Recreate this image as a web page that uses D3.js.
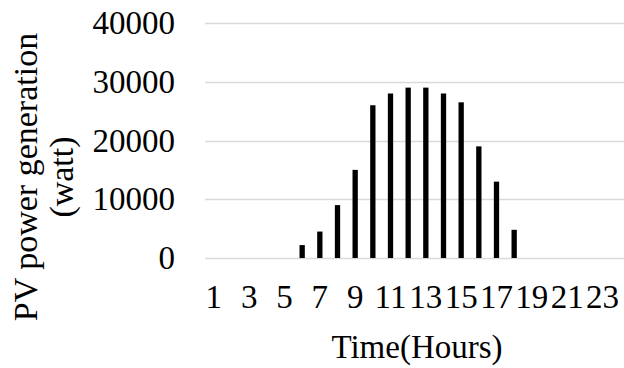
<!DOCTYPE html>
<html>
<head>
<meta charset="utf-8">
<script src="https://cdn.jsdelivr.net/npm/d3@7"></script>
<style>
  html, body { margin: 0; padding: 0; background: #fff; }
  svg { display: block; }
  text { font-family: "Liberation Serif", "Times New Roman", serif; fill: #000; }
</style>
</head>
<body>
<svg id="chart" width="624" height="368"></svg>
<script>
const hours = d3.range(1, 25);
const power = [0, 0, 0, 0, 0, 2200, 4500, 9000, 15000, 26000, 28000, 29000, 29000, 28000, 26500, 19000, 13000, 4800, 0, 0, 0, 0, 0, 0];
const yTicks = [0, 10000, 20000, 30000, 40000];
const xTickLabels = hours.filter(h => h % 2 === 1);
const yTitleLines = ["PV power generation", "(watt)"];
const xTitle = "Time(Hours)";

const svg = d3.select("#chart");
const plotLeft = 205, plotRight = 629, plotTop = 23, plotBottom = 258;

const x = d3.scaleBand().domain(hours).range([plotLeft, plotRight]).paddingInner(0.7).paddingOuter(0.35);
const y = d3.scaleLinear().domain([0, 40000]).range([plotBottom, plotTop]);

// gridlines
svg.append("g").selectAll("line").data(yTicks).join("line")
  .attr("x1", plotLeft).attr("x2", 624)
  .attr("y1", d => Math.round(y(d)) + 0.5).attr("y2", d => Math.round(y(d)) + 0.5)
  .attr("stroke", "#d9d9d9").attr("stroke-width", 1.5);

// bars
svg.append("g").selectAll("rect").data(hours.map((h, i) => ({h, v: power[i]})).filter(d => d.v > 0)).join("rect")
  .attr("x", d => x(d.h)).attr("width", x.bandwidth())
  .attr("y", d => y(d.v)).attr("height", d => y(0) - y(d.v))
  .attr("fill", "#000");

// y axis labels
const yAxis = d3.axisLeft(y).tickValues(yTicks).tickSize(0).tickPadding(30).tickFormat(d3.format("d"));
const gy = svg.append("g").attr("transform", `translate(${plotLeft},0)`).call(yAxis);
gy.select(".domain").remove();
gy.selectAll("text").style("font-size", "33px").style("font-family", "'Liberation Serif', serif");

// x axis labels
const xAxis = d3.axisBottom(x).tickValues(xTickLabels).tickSize(0).tickPadding(0);
const gx = svg.append("g").attr("transform", `translate(0,${plotBottom})`).call(xAxis);
gx.select(".domain").remove();
gx.selectAll("text").attr("dy", null).attr("y", 50).style("font-size", "33px").style("font-family", "'Liberation Serif', serif");

// x title
svg.append("text").attr("x", (plotLeft + plotRight) / 2).attr("y", 358)
  .attr("text-anchor", "middle").style("font-size", "33px").text(xTitle);

// y title
const yt = svg.append("text").attr("transform", "translate(0,177) rotate(-90)")
  .attr("text-anchor", "middle").style("font-size", "34px");
yt.selectAll("tspan").data(yTitleLines).join("tspan")
  .attr("x", 0).attr("y", (d, i) => 37 + i * 36).text(d => d);
</script>
</body>
</html>
